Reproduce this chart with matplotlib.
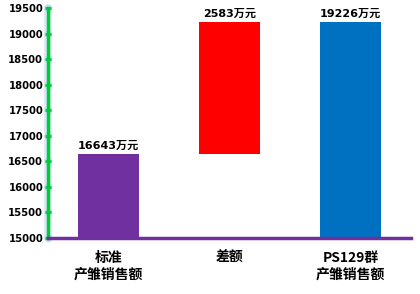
import matplotlib
matplotlib.use("Agg")
import matplotlib.pyplot as plt
import matplotlib.transforms as mtrans

categories = ["标准\n产雏销售额", "差额", "PS129群\n产雏销售额"]
bottoms = [15000, 16643, 15000]
tops = [16643, 19226, 19226]
labels = ["16643万元", "2583万元", "19226万元"]
colors = ["#7030A0", "#FF0000", "#0070C0"]
yticks = [15000, 15500, 16000, 16500, 17000, 17500, 18000, 18500, 19000, 19500]

plt.rcParams['font.family'] = ['Noto Sans CJK SC', 'DejaVu Sans']

fig = plt.figure(figsize=(4.2, 2.94), dpi=100)
ax = fig.add_axes([48/420, 56/294, 363/420, 230/294])

x = list(range(len(categories)))
heights = [t - b for t, b in zip(tops, bottoms)]
ax.bar(x, heights, bottom=bottoms, width=0.5, color=colors, zorder=3)

for xi, t, lab in zip(x, tops, labels):
    ax.text(xi, t + 60, lab, ha='center', va='bottom', fontsize=8, fontweight='bold',
            family=['DejaVu Sans', 'Noto Sans CJK SC'], zorder=4)

ax.set_xlim(-0.5, 2.5)
ax.set_ylim(15000, 19500)
ax.set_yticks(yticks)
ax.set_xticks(x)
ax.set_xticklabels(categories, fontsize=10, fontweight='bold', linespacing=1.25)
for lab in ax.get_yticklabels():
    lab.set_fontsize(7.2)
    lab.set_fontweight('bold')
    lab.set_family('DejaVu Sans')

for s in ['top', 'right']:
    ax.spines[s].set_visible(False)
ax.spines['left'].set_color('#00CC33')
ax.spines['left'].set_linewidth(2.5)
ax.spines['left'].set_zorder(5)
ax.spines['bottom'].set_color('#7030A0')
ax.spines['bottom'].set_linewidth(2.5)
ax.spines['bottom'].set_zorder(5)

# soft glow behind y axis
trans = mtrans.blended_transform_factory(ax.transAxes, ax.transData)
ax.plot([0, 0], [15000, 19500], transform=trans, color='#A9CBF2', lw=5.5, alpha=0.45,
        clip_on=False, zorder=1, solid_capstyle='round')
ax.plot([0] * len(yticks), yticks, transform=trans, linestyle='none', marker='o',
        markersize=6, color='#A9CBF2', alpha=0.4, markeredgewidth=0, clip_on=False, zorder=1)

ax.tick_params(axis='y', direction='inout', length=4, width=2, color='#00CC33', pad=1.5)
ax.tick_params(axis='x', length=0, pad=9)

fig.savefig("out.png", dpi=100)
